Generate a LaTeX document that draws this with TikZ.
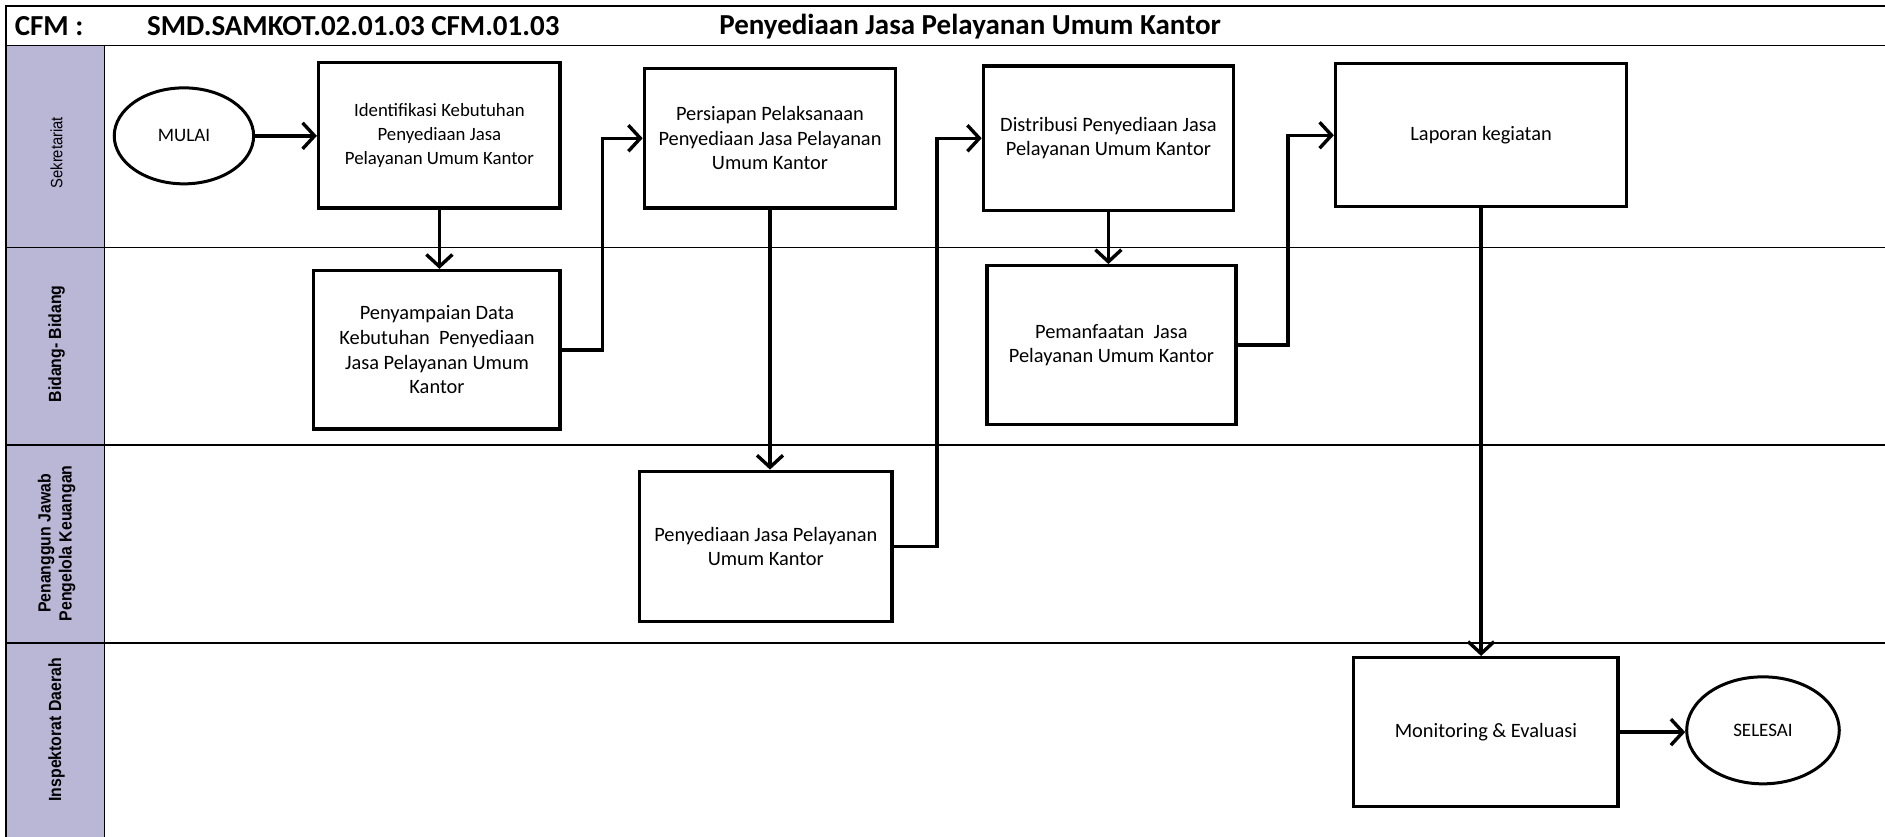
\documentclass[tikz,border=0pt]{standalone}
\usepackage{fontspec}
\setmainfont{Carlito}
\newfontfamily\lanefont[FakeStretch=0.9]{Liberation Sans}
\usetikzlibrary{arrows.meta,shapes.geometric,calc}
\definecolor{lanebg}{RGB}{186,182,214}
\begin{document}
\begin{tikzpicture}[x=0.6011pt,y=-0.6011pt,
  proc/.style={draw,line width=1.7pt,align=center,inner sep=2pt,
    font=\fontsize{10.2}{12.3}\selectfont},
  term/.style={draw,ellipse,line width=1.5pt,inner sep=1pt,
    font=\fontsize{9.5}{12}\selectfont},
  flow/.style={line width=1.7pt,-{Straight Barb[length=6pt,width=13pt,line width=1.7pt]}},
  lane/.style={line width=0.8pt},
  head/.style={anchor=west,inner sep=0pt,font=\bfseries\fontsize{14.5}{16}\selectfont},
  lanelbl/.style={rotate=90,align=center,inner sep=0pt,font=\lanefont\fontsize{8.2}{9}\selectfont},
  lanebold/.style={lanelbl,font=\lanefont\bfseries\fontsize{8.8}{10.5}\selectfont}]
\useasboundingbox (0,0) rectangle (1568,696);
% swimlane frame
\fill[lanebg] (5,38) rectangle (87,696);
\draw[lane] (5,696) -- (5,5) -- (1568,5);
\draw[lane] (5,38) -- (1568,38);
\draw[lane] (5,206) -- (1568,206);
\draw[lane] (5,370) -- (1568,370);
\draw[lane] (5,535) -- (1568,535);
\draw[lane] (87,38) -- (87,696);
% header
\node[head] (hcfm) at (12,22) {CFM :};
\node[head] (hcode) at (122,22) {SMD.SAMKOT.02.01.03 CFM.01.03};
\node[head] (htitle) at (598,22) {Penyediaan Jasa Pelayanan Umum Kantor};
% lane labels
\node[lanelbl] (l1) at (47,127) {Sekretariat};
\node[lanebold] (l2) at (47,286) {Bidang- Bidang};
\node[lanebold] (l3) at (47,452) {Penanggun Jawab\\Pengelola Keuangan};
\node[lanebold] (l4) at (47,607) {Inspektorat Daerah};
% nodes
\node[term,minimum width=69.7pt,minimum height=48pt] (mulai) at (153,113) {MULAI};
\node[proc,minimum width=120.8pt,minimum height=72.7pt,font=\fontsize{9.4}{12}\selectfont] (ident) at (365.5,112.5)
  {Identifikasi Kebutuhan\\Penyediaan Jasa\\Pelayanan Umum Kantor};
\node[proc,minimum width=123.2pt,minimum height=79.3pt] (penyamp) at (363.5,291)
  {Penyampaian Data\\Kebutuhan\ \ Penyediaan\\Jasa Pelayanan Umum\\Kantor};
\node[proc,minimum width=125.6pt,minimum height=69.7pt] (persiap) at (640.5,115)
  {Persiapan Pelaksanaan\\Penyediaan Jasa Pelayanan\\Umum Kantor};
\node[proc,minimum width=126.2pt,minimum height=75.1pt] (penyed) at (637,454.5)
  {Penyediaan Jasa Pelayanan\\Umum Kantor};
\node[proc,minimum width=125pt,minimum height=72.1pt] (distrib) at (922,115)
  {Distribusi Penyediaan Jasa\\Pelayanan Umum Kantor};
\node[proc,minimum width=124.4pt,minimum height=79.3pt] (pemanf) at (924.5,287)
  {Pemanfaatan\ \ Jasa\\Pelayanan Umum Kantor};
\node[proc,minimum width=145.5pt,minimum height=71.5pt] (lapor) at (1232,112.5)
  {Laporan kegiatan};
\node[proc,minimum width=132.2pt,minimum height=74.5pt] (monev) at (1236,609)
  {Monitoring \& Evaluasi};
\node[term,minimum width=76.3pt,minimum height=53.5pt] (selesai) at (1466.5,607.5)
  {SELESAI};
% connectors
\draw[flow] (mulai.east) -- (mulai.east -| ident.west);
\draw[flow] (ident.south) -- (ident.south |- penyamp.north);
\draw[flow] (penyamp.east) -- ++(34,0) |- (persiap.west);
\draw[flow] (persiap.south) -- (persiap.south |- penyed.north);
\draw[flow] (penyed.east) -- ++(36,0) |- (distrib.west);
\draw[flow] (distrib.south) -- (distrib.south |- pemanf.north);
\draw[flow] (pemanf.east) -- ++(42,0) |- (lapor.west);
\draw[flow] (lapor.south) -- (lapor.south |- monev.north);
\draw[flow] (monev.east) -- (monev.east -| selesai.west);
\end{tikzpicture}
\end{document}
